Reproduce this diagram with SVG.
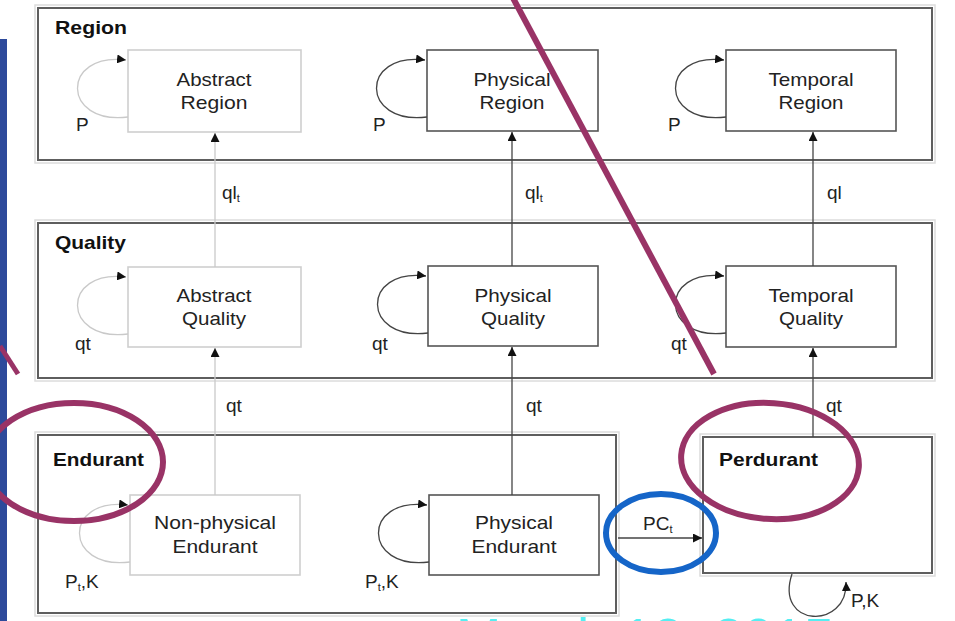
<svg xmlns="http://www.w3.org/2000/svg" width="955" height="621" viewBox="0 0 955 621">
<defs>
<style>
.frame{fill:none;stroke:#5e5e5e;stroke-width:2}
.frameshadow{fill:none;stroke:#dcdcdc;stroke-width:1.5}
.box{fill:#fff;stroke:#555;stroke-width:1.6}
.fbox{fill:#fff;stroke:#cfcfcf;stroke-width:1.6}
.edge{fill:none;stroke:#444;stroke-width:1.3}
.fedge{fill:none;stroke:#c9c9c9;stroke-width:1.3}
text{font-family:"Liberation Sans",Arial,sans-serif;fill:#222}
.t{font-size:19px;text-anchor:middle}
.title{font-size:19px;font-weight:bold;fill:#111}
.lbl{font-size:19px}
.sub{font-size:11px}
.mark{fill:none;stroke:#993366;stroke-width:6}
.blue{fill:none;stroke:#1565c8;stroke-width:6}
</style>
<marker id="ah" viewBox="0 0 10 10" refX="10" refY="5" markerWidth="9" markerHeight="9" markerUnits="userSpaceOnUse" orient="auto">
<path d="M0,0 L10,5 L0,10 z" fill="#111"/>
</marker>
</defs>
<rect width="955" height="621" fill="#fff"/>
<rect x="0" y="39" width="7" height="582" fill="#2d4a9b"/>

<g id="region-frame">
<rect class="frameshadow" x="35" y="5" width="900" height="158"/>
<rect class="frame" x="38" y="8" width="894" height="152"/>
<text class="title" x="55" y="34" textLength="72" lengthAdjust="spacingAndGlyphs">Region</text>
</g>
<g id="quality-frame">
<rect class="frameshadow" x="35" y="220" width="900" height="161"/>
<rect class="frame" x="38" y="223" width="894" height="155"/>
<text class="title" x="55" y="249" textLength="71" lengthAdjust="spacingAndGlyphs">Quality</text>
</g>
<g id="endurant-frame">
<rect class="frameshadow" x="35" y="432" width="584" height="184"/>
<rect class="frame" x="38" y="435" width="578" height="178"/>
<text class="title" x="53" y="466" textLength="91" lengthAdjust="spacingAndGlyphs">Endurant</text>
</g>
<g id="perdurant">
<rect class="frameshadow" x="700" y="434" width="235" height="142"/>
<rect class="frame" x="703" y="437" width="229" height="136"/>
<text class="title" x="719" y="466" textLength="99" lengthAdjust="spacingAndGlyphs">Perdurant</text>
</g>

<g id="abstract-region">
<rect class="fbox" x="128" y="50" width="173" height="82"/>
<text class="t" x="214" y="86" textLength="75" lengthAdjust="spacingAndGlyphs">Abstract</text>
<text class="t" x="214" y="109" textLength="67" lengthAdjust="spacingAndGlyphs">Region</text>
</g>
<g id="physical-region">
<rect class="box" x="427" y="50" width="171" height="81"/>
<text class="t" x="512" y="86" textLength="77" lengthAdjust="spacingAndGlyphs">Physical</text>
<text class="t" x="512" y="109" textLength="65" lengthAdjust="spacingAndGlyphs">Region</text>
</g>
<g id="temporal-region">
<rect class="box" x="726" y="50" width="170" height="81"/>
<text class="t" x="811" y="86" textLength="85" lengthAdjust="spacingAndGlyphs">Temporal</text>
<text class="t" x="811" y="109" textLength="65" lengthAdjust="spacingAndGlyphs">Region</text>
</g>
<g id="abstract-quality">
<rect class="fbox" x="128" y="267" width="173" height="80"/>
<text class="t" x="214" y="302" textLength="75" lengthAdjust="spacingAndGlyphs">Abstract</text>
<text class="t" x="214" y="325" textLength="64" lengthAdjust="spacingAndGlyphs">Quality</text>
</g>
<g id="physical-quality">
<rect class="box" x="428" y="266" width="170" height="80"/>
<text class="t" x="513" y="302" textLength="77" lengthAdjust="spacingAndGlyphs">Physical</text>
<text class="t" x="513" y="325" textLength="64" lengthAdjust="spacingAndGlyphs">Quality</text>
</g>
<g id="temporal-quality">
<rect class="box" x="726" y="266" width="170" height="81"/>
<text class="t" x="811" y="302" textLength="85" lengthAdjust="spacingAndGlyphs">Temporal</text>
<text class="t" x="811" y="325" textLength="64" lengthAdjust="spacingAndGlyphs">Quality</text>
</g>
<g id="non-physical-endurant">
<rect class="fbox" x="130" y="495" width="170" height="80"/>
<text class="t" x="215" y="529" textLength="122" lengthAdjust="spacingAndGlyphs">Non-physical</text>
<text class="t" x="215" y="553" textLength="85" lengthAdjust="spacingAndGlyphs">Endurant</text>
</g>
<g id="physical-endurant">
<rect class="box" x="429" y="495" width="170" height="80"/>
<text class="t" x="514" y="529" textLength="78" lengthAdjust="spacingAndGlyphs">Physical</text>
<text class="t" x="514" y="553" textLength="85" lengthAdjust="spacingAndGlyphs">Endurant</text>
</g>

<g id="connectors">
<path class="fedge" d="M128,117 C61,125 61,52 126,60" marker-end="url(#ah)"/>
<path class="edge" d="M427,117 C360,125 360,52 425,60" marker-end="url(#ah)"/>
<path class="edge" d="M726,117 C659,125 659,52 724,60" marker-end="url(#ah)"/>
<path class="fedge" d="M128,334 C61,342 61,269 126,277" marker-end="url(#ah)"/>
<path class="edge" d="M428,333 C361,341 361,268 426,276" marker-end="url(#ah)"/>
<path class="edge" d="M726,333 C659,341 659,268 724,276" marker-end="url(#ah)"/>
<path class="fedge" d="M130,562 C63,570 63,497 128,505" marker-end="url(#ah)"/>
<path class="edge" d="M429,562 C362,570 362,497 427,505" marker-end="url(#ah)"/>
<path class="edge" d="M792,574 C774,628 848,630 846,582" marker-end="url(#ah)"/>
<path class="fedge" d="M215,267 L215,133" marker-end="url(#ah)"/>
<path class="edge" d="M512,266 L512,132" marker-end="url(#ah)"/>
<path class="edge" d="M813,266 L813,132" marker-end="url(#ah)"/>
<path class="fedge" d="M215,495 L215,348" marker-end="url(#ah)"/>
<path class="edge" d="M512,495 L512,347" marker-end="url(#ah)"/>
<path class="edge" d="M813,437 L813,348" marker-end="url(#ah)"/>
<path class="edge" d="M618,538 L702,538" marker-end="url(#ah)"/>
<text class="lbl" x="76" y="131">P</text>
<text class="lbl" x="373" y="131">P</text>
<text class="lbl" x="668" y="131">P</text>
<text class="lbl" x="75" y="350">qt</text>
<text class="lbl" x="372" y="350">qt</text>
<text class="lbl" x="671" y="350">qt</text>
<text class="lbl" x="65" y="588">P<tspan class="sub" dy="3">t</tspan><tspan dy="-3">,K</tspan></text>
<text class="lbl" x="365" y="588">P<tspan class="sub" dy="3">t</tspan><tspan dy="-3">,K</tspan></text>
<text class="lbl" x="851" y="607">P,K</text>
<text class="lbl" x="222" y="199">ql<tspan class="sub" dy="3">t</tspan></text>
<text class="lbl" x="525" y="199">ql<tspan class="sub" dy="3">t</tspan></text>
<text class="lbl" x="827" y="199">ql</text>
<text class="lbl" x="226" y="412">qt</text>
<text class="lbl" x="526" y="412">qt</text>
<text class="lbl" x="826" y="412">qt</text>
<text class="lbl" x="643" y="530">PC<tspan class="sub" dy="3">t</tspan></text>
</g>

<g id="annotations">
<line class="mark" x1="513" y1="-2" x2="714" y2="374"/>
<line class="mark" x1="0" y1="346" x2="18" y2="374" style="stroke-width:5"/>
<ellipse class="mark" cx="74" cy="462" rx="89" ry="59"/>
<ellipse class="mark" cx="770" cy="461" rx="89" ry="58" transform="rotate(4 770 461)"/>
<ellipse class="blue" cx="661" cy="533" rx="55" ry="39"/>
<text x="456" y="656" style="font-size:54px;fill:#55eef2" textLength="378" lengthAdjust="spacingAndGlyphs">March 12, 2015</text>
</g>
</svg>
